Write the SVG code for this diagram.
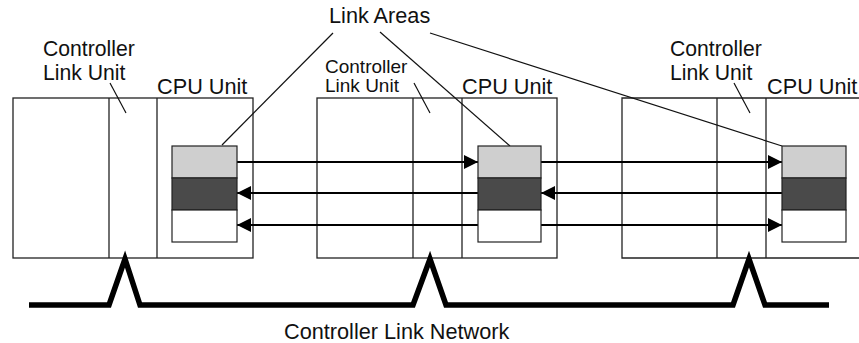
<svg xmlns="http://www.w3.org/2000/svg" width="859" height="343" viewBox="0 0 859 343">
<defs>
<style>
.box{fill:#fff;stroke:#222;stroke-width:1.3}
.div{stroke:#222;stroke-width:1.3;fill:none}
.lead{stroke:#111;stroke-width:1.2;fill:none}
.arr{stroke:#000;stroke-width:2.2;fill:none}
.light{fill:#cfcfcf;stroke:#222;stroke-width:1.2}
.dark{fill:#4a4a4a;stroke:#222;stroke-width:1.2}
.white{fill:#fff;stroke:#222;stroke-width:1.2}
.t{font-family:"Liberation Sans",Arial,sans-serif;font-size:21.7px;fill:#111}
.tm{font-family:"Liberation Sans",Arial,sans-serif;font-size:21.2px;fill:#111}
.ts{font-family:"Liberation Sans",Arial,sans-serif;font-size:19px;fill:#111}
.net{stroke:#000;stroke-width:5.5;fill:none;stroke-linejoin:miter}
</style>
<marker id="ah" viewBox="0 0 14 14" markerWidth="14" markerHeight="14" refX="14" refY="7" orient="auto" markerUnits="userSpaceOnUse">
<path d="M0,0 L14,7 L0,14 Z" fill="#000"/>
</marker>
<marker id="ahs" viewBox="0 0 14 14" markerWidth="14" markerHeight="14" refX="0" refY="7" orient="auto" markerUnits="userSpaceOnUse">
<path d="M14,0 L0,7 L14,14 Z" fill="#000"/>
</marker>
</defs>

<g id="plc1">
<rect class="box" x="13" y="98" width="240" height="160"/>
<line class="div" x1="109" y1="98" x2="109" y2="258"/>
<line class="div" x1="157" y1="98" x2="157" y2="258"/>
</g>
<g id="plc2">
<rect class="box" x="317" y="98" width="240" height="160"/>
<line class="div" x1="413" y1="98" x2="413" y2="258"/>
<line class="div" x1="462" y1="98" x2="462" y2="258"/>
</g>
<g id="plc3">
<path class="div" d="M860,98 H622 V258 H860"/>
<line class="div" x1="717" y1="98" x2="717" y2="258"/>
<line class="div" x1="766" y1="98" x2="766" y2="258"/>
</g>

<g id="connectors">
<line class="arr" x1="237" y1="162" x2="478" y2="162" marker-end="url(#ah)"/>
<line class="arr" x1="541" y1="162" x2="782" y2="162" marker-end="url(#ah)"/>
<line class="arr" x1="237" y1="193" x2="478" y2="193" marker-start="url(#ahs)"/>
<line class="arr" x1="541" y1="193" x2="782" y2="193" marker-start="url(#ahs)"/>
<line class="arr" x1="237" y1="225" x2="782" y2="225" marker-start="url(#ahs)" marker-end="url(#ah)"/>
<path class="net" d="M29,305 H109 L125,259 L140,305 H413 L430,259 L446,305 H733 L749,259 L765,305 H829"/>
<line class="lead" x1="333" y1="33" x2="222" y2="145"/>
<line class="lead" x1="380" y1="32" x2="510" y2="146"/>
<line class="lead" x1="430" y1="33" x2="782" y2="146"/>
<line class="lead" x1="110" y1="83" x2="126" y2="113"/>
<line class="lead" x1="414" y1="83" x2="430" y2="113"/>
<line class="lead" x1="734" y1="83" x2="750" y2="113"/>
</g>

<g id="linkarea1">
<rect class="light" x="172" y="146" width="65" height="32"/>
<rect class="dark" x="172" y="178" width="65" height="32"/>
<rect class="white" x="172" y="210" width="65" height="32"/>
</g>
<g id="linkarea2">
<rect class="light" x="478" y="146" width="63" height="32"/>
<rect class="dark" x="478" y="178" width="63" height="32"/>
<rect class="white" x="478" y="210" width="63" height="32"/>
</g>
<g id="linkarea3">
<rect class="light" x="782" y="146" width="64" height="32"/>
<rect class="dark" x="782" y="178" width="64" height="32"/>
<rect class="white" x="782" y="210" width="64" height="32"/>
</g>

<g id="labels">
<text class="t" x="329" y="23">Link Areas</text>
<text class="tm" x="43" y="55.5">Controller</text>
<text class="tm" x="43" y="79.5">Link Unit</text>
<text class="t" x="157" y="94">CPU Unit</text>
<text class="ts" x="325" y="73">Controller</text>
<text class="ts" x="325" y="92">Link Unit</text>
<text class="t" x="462" y="94">CPU Unit</text>
<text class="tm" x="670" y="55.5">Controller</text>
<text class="tm" x="670" y="79.5">Link Unit</text>
<text class="t" x="767" y="94">CPU Unit</text>
<text class="t" x="284" y="338.5">Controller Link Network</text>
</g>
</svg>
